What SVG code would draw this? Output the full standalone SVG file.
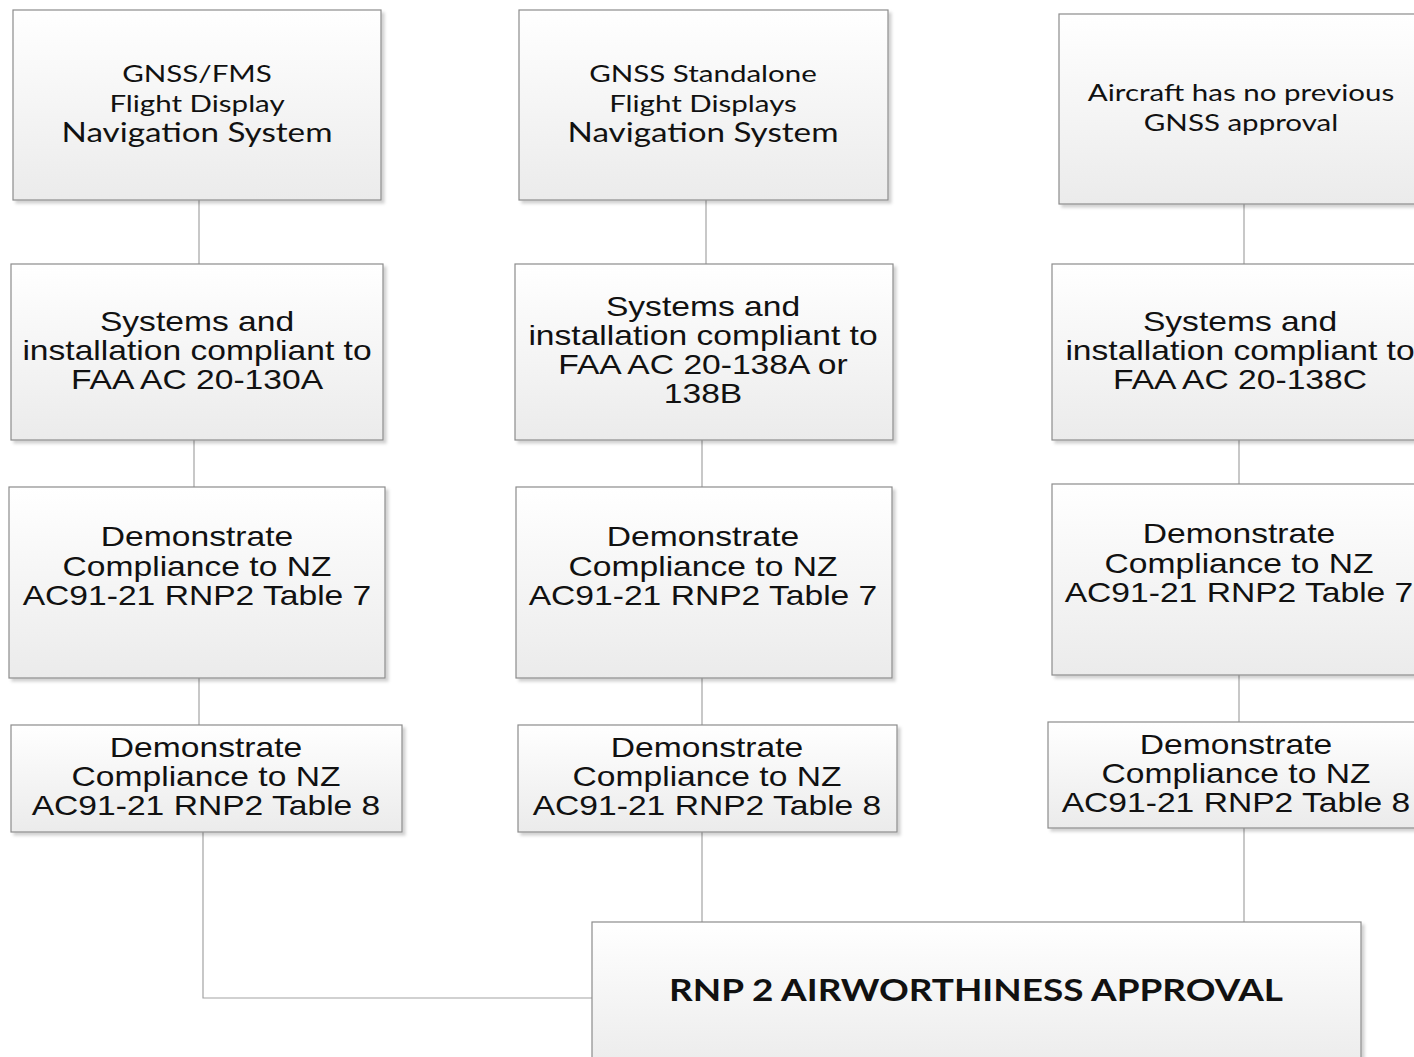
<svg xmlns="http://www.w3.org/2000/svg" width="1414" height="1057" viewBox="0 0 1414 1057">
<style>
.box{fill:url(#g);stroke:#8c8c8c;stroke-width:1.2;filter:url(#sh)}
.conn{stroke:#a3a3a3;stroke-width:1.2;fill:none}
.a{font-family:"Liberation Sans",Arial,sans-serif;font-size:27px;fill:#111;text-anchor:middle}
.c{font-family:Lato,"Open Sans",sans-serif;font-size:24px;fill:#111;text-anchor:middle}
.cl{font-size:27px}
.b{font-family:Lato,"Open Sans",sans-serif;font-size:30px;font-weight:bold;fill:#111;text-anchor:middle}
</style>
<defs>
<linearGradient id="g" x1="0" y1="0" x2="0" y2="1">
<stop offset="0" stop-color="#ffffff"/>
<stop offset="1" stop-color="#ebebeb"/>
</linearGradient>
<filter id="sh" x="-5%" y="-5%" width="115%" height="115%">
<feDropShadow dx="3" dy="3" stdDeviation="1.5" flood-color="#000" flood-opacity="0.18"/>
</filter>
</defs>
<rect width="1414" height="1057" fill="#fff"/>
<g id="connectors">
<line class="conn" x1="199" y1="200" x2="199" y2="264"/>
<line class="conn" x1="194" y1="440" x2="194" y2="487"/>
<line class="conn" x1="199" y1="678" x2="199" y2="725"/>
<polyline class="conn" points="203,832 203,998 592,998"/>
<line class="conn" x1="706" y1="200" x2="706" y2="264"/>
<line class="conn" x1="702" y1="440" x2="702" y2="487"/>
<line class="conn" x1="702" y1="678" x2="702" y2="725"/>
<line class="conn" x1="702" y1="832" x2="702" y2="922"/>
<line class="conn" x1="1244" y1="204" x2="1244" y2="264"/>
<line class="conn" x1="1239" y1="437" x2="1239" y2="484"/>
<line class="conn" x1="1239" y1="675" x2="1239" y2="722"/>
<line class="conn" x1="1244" y1="828" x2="1244" y2="922"/>
</g>
<g id="n1a">
<rect class="box" x="13" y="10" width="368" height="190"/>
<text class="c" transform="matrix(1.23 0 0 1 197 0)"><tspan x="0" y="82">GNSS/FMS</tspan><tspan x="0" y="112">Flight Display</tspan><tspan x="0" y="142" class="cl">Navigation System</tspan></text>
</g>
<g id="n1b">
<rect class="box" x="11" y="264" width="372" height="176"/>
<text class="a" transform="matrix(1.245 0 0 1 197 0)"><tspan x="0" y="331">Systems and</tspan><tspan x="0" y="360">installation compliant to</tspan><tspan x="0" y="389">FAA AC 20-130A</tspan></text>
</g>
<g id="n1c">
<rect class="box" x="9" y="487" width="376" height="191"/>
<text class="a" transform="matrix(1.245 0 0 1 197 0)"><tspan x="0" y="546">Demonstrate</tspan><tspan x="0" y="576">Compliance to NZ</tspan><tspan x="0" y="605">AC91-21 RNP2 Table 7</tspan></text>
</g>
<g id="n1d">
<rect class="box" x="11" y="725" width="391" height="107"/>
<text class="a" transform="matrix(1.245 0 0 1 206 0)"><tspan x="0" y="757">Demonstrate</tspan><tspan x="0" y="786">Compliance to NZ</tspan><tspan x="0" y="815">AC91-21 RNP2 Table 8</tspan></text>
</g>
<g id="n2a">
<rect class="box" x="519" y="10" width="369" height="190"/>
<text class="c" transform="matrix(1.23 0 0 1 703 0)"><tspan x="0" y="82">GNSS Standalone</tspan><tspan x="0" y="112">Flight Displays</tspan><tspan x="0" y="142" class="cl">Navigation System</tspan></text>
</g>
<g id="n2b">
<rect class="box" x="515" y="264" width="378" height="176"/>
<text class="a" transform="matrix(1.245 0 0 1 703 0)"><tspan x="0" y="316">Systems and</tspan><tspan x="0" y="345">installation compliant to</tspan><tspan x="0" y="374">FAA AC 20-138A or</tspan><tspan x="0" y="403">138B</tspan></text>
</g>
<g id="n2c">
<rect class="box" x="516" y="487" width="376" height="191"/>
<text class="a" transform="matrix(1.245 0 0 1 703 0)"><tspan x="0" y="546">Demonstrate</tspan><tspan x="0" y="576">Compliance to NZ</tspan><tspan x="0" y="605">AC91-21 RNP2 Table 7</tspan></text>
</g>
<g id="n2d">
<rect class="box" x="518" y="725" width="379" height="107"/>
<text class="a" transform="matrix(1.245 0 0 1 707 0)"><tspan x="0" y="757">Demonstrate</tspan><tspan x="0" y="786">Compliance to NZ</tspan><tspan x="0" y="815">AC91-21 RNP2 Table 8</tspan></text>
</g>
<g id="n3a">
<rect class="box" x="1059" y="14" width="380" height="190"/>
<text class="c" transform="matrix(1.23 0 0 1 1241 0)"><tspan x="0" y="101">Aircraft has no previous</tspan><tspan x="0" y="131">GNSS approval</tspan></text>
</g>
<g id="n3b">
<rect class="box" x="1052" y="264" width="380" height="176"/>
<text class="a" transform="matrix(1.245 0 0 1 1240 0)"><tspan x="0" y="331">Systems and</tspan><tspan x="0" y="360">installation compliant to</tspan><tspan x="0" y="389">FAA AC 20-138C</tspan></text>
</g>
<g id="n3c">
<rect class="box" x="1052" y="484" width="380" height="191"/>
<text class="a" transform="matrix(1.245 0 0 1 1239 0)"><tspan x="0" y="543">Demonstrate</tspan><tspan x="0" y="573">Compliance to NZ</tspan><tspan x="0" y="602">AC91-21 RNP2 Table 7</tspan></text>
</g>
<g id="n3d">
<rect class="box" x="1048" y="722" width="380" height="106"/>
<text class="a" transform="matrix(1.245 0 0 1 1236 0)"><tspan x="0" y="754">Demonstrate</tspan><tspan x="0" y="783">Compliance to NZ</tspan><tspan x="0" y="812">AC91-21 RNP2 Table 8</tspan></text>
</g>
<g id="final">
<rect class="box" x="592" y="922" width="769" height="150"/>
<text class="b" transform="matrix(1.23 0 0 1 976 0)" x="0" y="1001">RNP 2 AIRWORTHINESS APPROVAL</text>
</g>
</svg>
